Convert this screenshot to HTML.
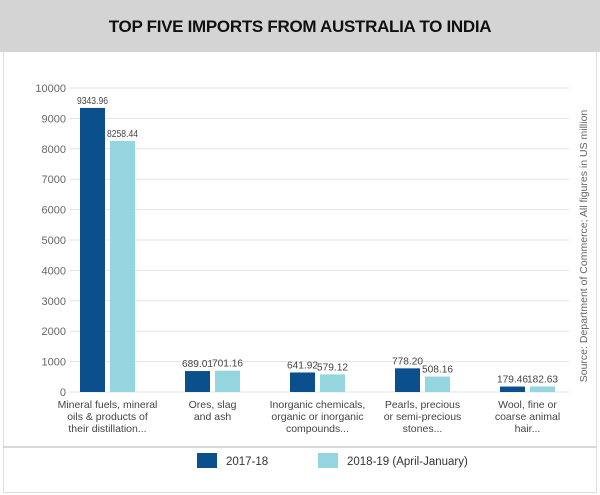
<!DOCTYPE html>
<html><head><meta charset="utf-8">
<style>
body{margin:0;width:600px;height:495px;background:#fff;font-family:"Liberation Sans",sans-serif;overflow:hidden}
#hdr{position:absolute;left:0;top:0;width:600px;height:52px;background:#d4d4d4}
#hdr h1{margin:0;text-align:center;line-height:54px;font-size:17px;font-weight:bold;color:#111;letter-spacing:-0.3px}
#frame{position:absolute;left:3px;top:52px;width:592px;height:440px;border:1px solid #ddd;border-top:none}
svg{position:absolute;left:0;top:0}
</style></head><body>
<div id="hdr"><h1>TOP FIVE IMPORTS FROM AUSTRALIA TO INDIA</h1></div>
<div id="frame"></div>
<svg id="c" width="600" height="495"></svg>
<script>
const categories=[["Mineral fuels, mineral","oils & products of","their distillation..."],["Ores, slag","and ash"],["Inorganic chemicals,","organic or inorganic","compounds..."],["Pearls, precious","or semi-precious","stones..."],["Wool, fine or","coarse animal","hair..."]];
const series2017=[9343.96,689.01,641.92,778.20,179.46];
const series2018=[8258.44,701.16,579.12,508.16,182.63];
const yTicks=[0,1000,2000,3000,4000,5000,6000,7000,8000,9000,10000];
const seriesNames=["2017-18","2018-19 (April-January)"];
const colors=["#0b4f8c","#94d5df"];
const NS="http://www.w3.org/2000/svg";
const svg=document.getElementById('c');
const y0=392,y1=88;
const y=v=>y0-(v/10000)*(y0-y1);
const x=i=>107.5+i*105;
function el(t,a,txt){const e=document.createElementNS(NS,t);for(const k in a)e.setAttribute(k,a[k]);if(txt!=null)e.textContent=txt;svg.appendChild(e);return e;}
yTicks.forEach(t=>{
 const g=el('line',{x1:70,x2:569,y1:y(t),y2:y(t),stroke:'#e3e3e3','stroke-width':1});
 
 
 const l=el('text',{x:66,y:y(t)+4,'text-anchor':'end','font-size':11,fill:'#666'},t);
 
 
});
[series2017,series2018].forEach((s,si)=>{
 s.forEach((v,i)=>{
  const bx=x(i)-27.5+si*30;
  const r=el('rect',{x:bx,y:y(v),width:25,height:y0-y(v),fill:colors[si]});
  
  
  const t=el('text',{x:bx+12.5,y:y(v)-4,'text-anchor':'middle','font-size':10,fill:'#444',textLength:31,lengthAdjust:'spacingAndGlyphs'},v.toFixed(2));
  
  
 });
});
categories.forEach((lines,i)=>{
 lines.forEach((ln,j)=>{
  const t=el('text',{x:x(i),y:408+j*12,'text-anchor':'middle','font-size':10.5,fill:'#444'},ln);
  
  
 });
});
const sep=el('line',{x1:3,x2:596,y1:447,y2:447,stroke:'#ccc','stroke-width':1.5});


const lx=[197,318];
seriesNames.forEach((n,i)=>{
 const r=el('rect',{x:lx[i],y:453,width:20,height:15,fill:colors[i]});
 
 
 const t=el('text',{x:lx[i]+29,y:465,'font-size':11.5,fill:'#333'},n);
 
 
});
const src=el('text',{x:0,y:0,transform:'translate(587,246) rotate(-90)','text-anchor':'middle','font-size':10.5,fill:'#666'},'Source: Department of Commerce; All figures in US  million');


</script>
</body></html>
